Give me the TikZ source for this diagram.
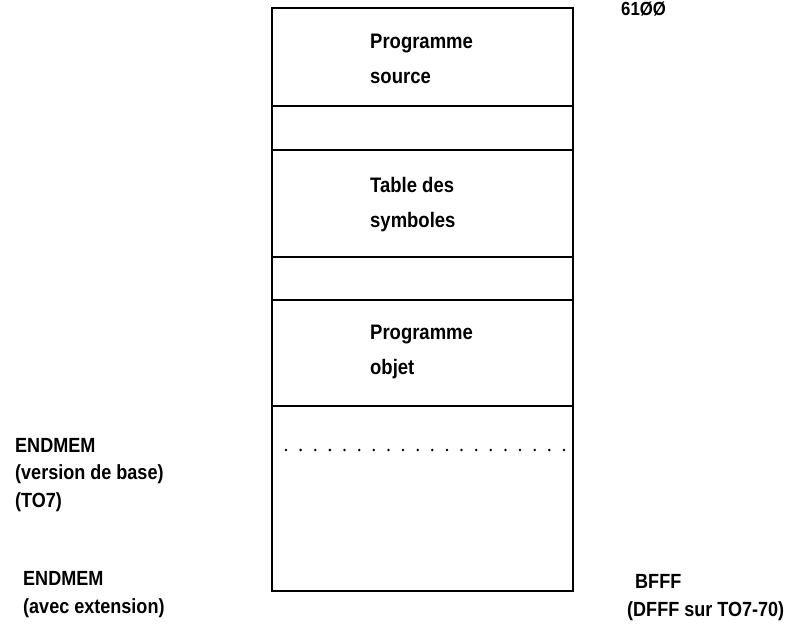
\documentclass[tikz,border=0pt]{standalone}
\usepackage{fontspec}
\setmainfont{Liberation Sans}[FakeStretch=0.88]
\usetikzlibrary{positioning}

\begin{document}
\begin{tikzpicture}[
    x=1pt, y=-1pt,
    node distance=0pt,
    zone/.style={rectangle, draw, line width=1.6pt, outer sep=0pt, inner sep=0pt, minimum width=301pt},
    lbl/.style={align=left, inner sep=0pt, anchor=base west, font=\fontsize{21}{35}\selectfont\bfseries},
    addr/.style={align=left, inner sep=0pt, anchor=base west, font=\fontsize{20.5}{27.5}\selectfont\bfseries}
]
\useasboundingbox (0,0) rectangle (808,636);

% Zones de la memoire
\node[zone, minimum height=98pt, anchor=north west] (src) at (272,8) {};
\node[zone, minimum height=44pt, below=of src] (gap1) {};
\node[zone, minimum height=107pt, below=of gap1] (sym) {};
\node[zone, minimum height=43pt, below=of sym] (gap2) {};
\node[zone, minimum height=106pt, below=of gap2] (obj) {};
\node[zone, minimum height=185pt, below=of obj] (free) {};

% Textes des zones (base = derniere ligne)
\node[lbl] (srcl) at (370,84) {Programme\\source};
\node[lbl] (syml) at (370,228) {Table des\\symboles};
\node[lbl] (objl) at (370,374) {Programme\\objet};

% Limite ENDMEM (version de base)
\foreach \i in {0,...,19}
  \fill (286+\i*14.63,450) circle (1.4pt);

% Adresses
\node[addr, font=\fontsize{19}{22}\selectfont\bfseries] (top) at (621,16) {61ØØ};
\node[addr] (endb) at (15,507) {ENDMEM\\(version de base)\\(TO7)};
\node[addr] (endx) at (23,613) {ENDMEM\\(avec extension)};
\node[addr] (bfff) at (627,616) {\hspace{8pt}BFFF\\(DFFF sur TO7-70)};
\end{tikzpicture}
\end{document}
